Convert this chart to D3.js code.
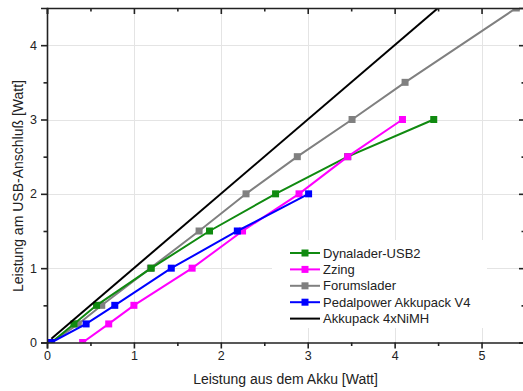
<!DOCTYPE html>
<html>
<head>
<meta charset="utf-8">
<script src="https://cdn.jsdelivr.net/npm/d3@7"></script>
<style>
  html, body { margin: 0; padding: 0; background: #fff; }
  svg { display: block; font-family: "Liberation Sans", Arial, sans-serif; }
</style>
</head>
<body>
<svg id="chart" width="523" height="391"></svg>
<script>
// Measured power: battery output (x) vs. USB port output (y), in watts
const seriesNames = ["Dynalader-USB2", "Zzing", "Forumslader", "Pedalpower Akkupack V4", "Akkupack 4xNiMH"];
const seriesColors = ["#108a10", "#ff00ff", "#808080", "#0000ff", "#000000"];
const seriesHasMarkers = [true, true, true, true, false];

const dynaladerX = [0.05, 0.31, 0.57, 1.20, 1.87, 2.63, 3.46, 4.45];
const dynaladerY = [0, 0.25, 0.5, 1.0, 1.5, 2.0, 2.5, 3.0];

const zzingX = [0.41, 0.71, 1.00, 1.67, 2.25, 2.90, 3.46, 4.09];
const zzingY = [0, 0.25, 0.5, 1.0, 1.5, 2.0, 2.5, 3.0];

const forumsladerX = [0.05, 0.36, 0.63, 1.19, 1.75, 2.29, 2.88, 3.51, 4.12, 5.40];
const forumsladerY = [0, 0.25, 0.5, 1.0, 1.5, 2.0, 2.5, 3.0, 3.5, 4.5];

const pedalpowerX = [0.05, 0.45, 0.78, 1.43, 2.19, 3.01];
const pedalpowerY = [0, 0.25, 0.5, 1.0, 1.5, 2.0];

const akkupackX = [0.05, 4.5];
const akkupackY = [0.05, 4.5];

const xTicks = [0, 1, 2, 3, 4, 5];
const yTicks = [0, 1, 2, 3, 4];
const xMinorTicks = [0.5, 1.5, 2.5, 3.5, 4.5];
const yMinorTicks = [0.5, 1.5, 2.5, 3.5];
const xTitle = "Leistung aus dem Akku [Watt]";
const yTitle = "Leistung am USB-Anschluß [Watt]";

const seriesX = [dynaladerX, zzingX, forumsladerX, pedalpowerX, akkupackX];
const seriesY = [dynaladerY, zzingY, forumsladerY, pedalpowerY, akkupackY];

const svg = d3.select("#chart");
const plotLeft = 47, plotRight = 525, plotTop = 8, plotBottom = 342.5;

const x = d3.scaleLinear().domain([0, 5.5]).range([plotLeft, plotRight]);
const y = d3.scaleLinear().domain([0, 4.5]).range([plotBottom, plotTop]);

// grid
const grid = svg.append("g").attr("stroke", "#e4e4e4").attr("stroke-width", 1);
grid.selectAll("line.gx").data(xTicks.filter(d => d > 0)).join("line").attr("class", "gx")
  .attr("x1", d => Math.round(x(d)) + 0.5).attr("x2", d => Math.round(x(d)) + 0.5)
  .attr("y1", plotTop).attr("y2", plotBottom);
grid.selectAll("line.gy").data(yTicks.filter(d => d > 0)).join("line").attr("class", "gy")
  .attr("y1", d => Math.round(y(d)) + 0.5).attr("y2", d => Math.round(y(d)) + 0.5)
  .attr("x1", plotLeft).attr("x2", plotRight);

// legend background hides the grid underneath
const legendX = 290, legendY = 253, legendStep = 16.4;
svg.append("rect").attr("x", 272).attr("y", 240).attr("width", 215).attr("height", 88).attr("fill", "#fff");

// data
svg.append("clipPath").attr("id", "plotclip").append("rect")
  .attr("x", plotLeft).attr("y", plotTop).attr("width", plotRight - plotLeft).attr("height", plotBottom - plotTop);
const plot = svg.append("g").attr("clip-path", "url(#plotclip)");
const line = d3.line().x(d => x(d[0])).y(d => y(d[1]));
const drawOrder = [2, 0, 1, 3, 4];
drawOrder.forEach(i => {
  const pts = seriesX[i].map((v, j) => [v, seriesY[i][j]]);
  const g = plot.append("g");
  g.append("path").datum(pts).attr("d", line).attr("fill", "none")
    .attr("stroke", seriesColors[i]).attr("stroke-width", 2);
  if (seriesHasMarkers[i]) {
    g.selectAll("rect").data(pts).join("rect")
      .attr("x", d => x(d[0]) - 3.5).attr("y", d => y(d[1]) - 3.5)
      .attr("width", 7).attr("height", 7).attr("fill", seriesColors[i]);
  }
});

// axes
const axisColor = "#222";
const fmt = d3.format("d");
const gb = svg.append("g").attr("transform", `translate(0,${plotBottom})`)
  .call(d3.axisBottom(x).tickValues(xTicks).tickSize(6).tickPadding(3).tickFormat(fmt));
const gl = svg.append("g").attr("transform", `translate(${plotLeft},0)`)
  .call(d3.axisLeft(y).tickValues(yTicks).tickSize(6).tickPadding(4).tickFormat(fmt));
const gt = svg.append("g").attr("transform", `translate(0,${plotTop})`)
  .call(d3.axisBottom(x).tickValues(xTicks).tickSize(6).tickFormat(""));
const gr = svg.append("g").attr("transform", `translate(${plotRight},0)`)
  .call(d3.axisLeft(y).tickValues(yTicks).tickSize(6).tickFormat(""));

// minor ticks
const gbm = svg.append("g").attr("transform", `translate(0,${plotBottom})`)
  .call(d3.axisBottom(x).tickValues(xMinorTicks).tickSize(3.5).tickFormat(""));
const glm = svg.append("g").attr("transform", `translate(${plotLeft},0)`)
  .call(d3.axisLeft(y).tickValues(yMinorTicks).tickSize(3.5).tickFormat(""));
const gtm = svg.append("g").attr("transform", `translate(0,${plotTop})`)
  .call(d3.axisBottom(x).tickValues(xMinorTicks).tickSize(3.5).tickFormat(""));
const grm = svg.append("g").attr("transform", `translate(${plotRight},0)`)
  .call(d3.axisLeft(y).tickValues(yMinorTicks).tickSize(3.5).tickFormat(""));

[gb, gl, gt, gr, gbm, glm, gtm, grm].forEach(g => {
  g.select(".domain").attr("stroke", axisColor).attr("stroke-width", 1.6);
  g.selectAll(".tick line").attr("stroke", axisColor).attr("stroke-width", 1.6);
  g.selectAll("text").attr("font-family", "Liberation Sans, Arial, sans-serif")
    .attr("font-size", 12.5).attr("fill", "#222");
});
[gbm, glm, gtm, grm].forEach(g => g.select(".domain").remove());

// axis titles
svg.append("text").attr("x", 285.5).attr("y", 384).attr("text-anchor", "middle")
  .attr("font-size", 14).attr("fill", "#222").text(xTitle);
svg.append("text").attr("transform", "translate(23,186) rotate(-90)")
  .attr("text-anchor", "middle").attr("font-size", 14).attr("fill", "#222").text(yTitle);

// legend
seriesNames.forEach((name, i) => {
  const ly = legendY + i * legendStep;
  const g = svg.append("g");
  g.append("line").attr("x1", legendX).attr("x2", legendX + 30).attr("y1", ly).attr("y2", ly)
    .attr("stroke", seriesColors[i]).attr("stroke-width", 2);
  if (seriesHasMarkers[i]) {
    g.append("rect").attr("x", legendX + 15 - 3.5).attr("y", ly - 3.5).attr("width", 7).attr("height", 7)
      .attr("fill", seriesColors[i]);
  }
  g.append("text").attr("x", legendX + 33).attr("y", ly).attr("dy", "0.35em")
    .attr("font-size", 13).attr("fill", "#222").text(name);
});
</script>
</body>
</html>
